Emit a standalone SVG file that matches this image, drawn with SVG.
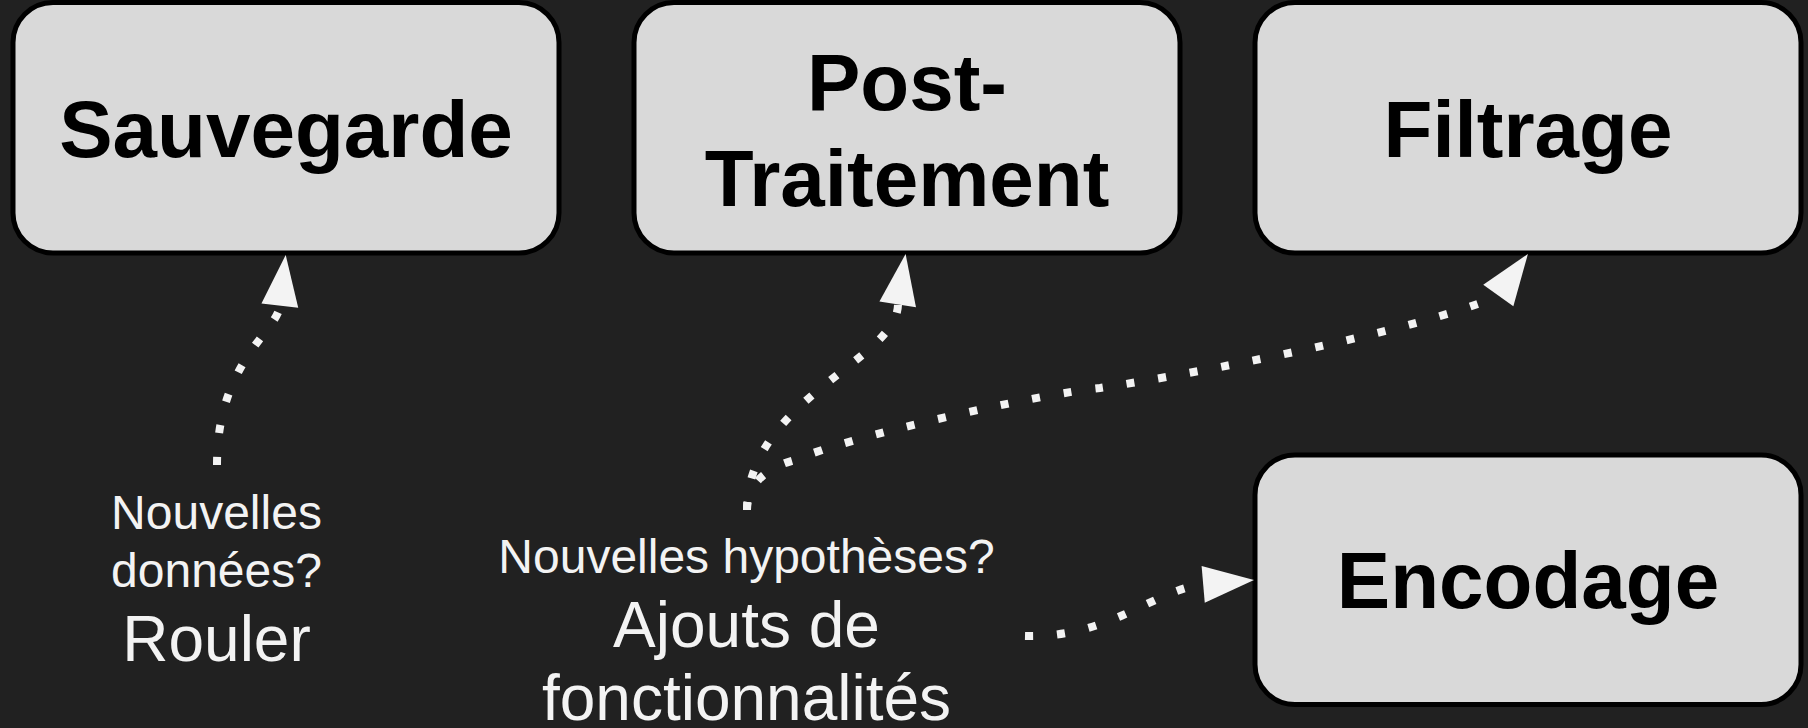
<svg xmlns="http://www.w3.org/2000/svg" xmlns:xlink="http://www.w3.org/1999/xlink" width="1808" height="728" viewBox="0 0 1808 728">
  <style>
    .box { fill: #d9d9d9; stroke: #000000; stroke-width: 5; }
    .title { font-family: "Liberation Sans", Arial, sans-serif; font-weight: bold; font-size: 80px; fill: #000000; text-anchor: middle; }
    .note { font-family: "Liberation Sans", Arial, sans-serif; font-size: 48px; fill: #f3f3f3; text-anchor: middle; }
    .big { font-family: "Liberation Sans", Arial, sans-serif; font-size: 64px; fill: #f3f3f3; text-anchor: middle; }
    .dotted { fill: none; stroke: #f3f3f3; stroke-width: 8; stroke-dasharray: 8 24; stroke-linecap: butt; }
    .head { fill: #f3f3f3; stroke: none; }
  </style>
  <defs>
    <!-- arrowhead with its tip at the origin, pointing along +x -->
    <path id="arrowhead" class="head" d="M0,0 L-51,-18.5 L-51,18.5 Z"/>
  </defs>

  <rect width="1808" height="728" fill="#212121"/>

  <g id="sauvegarde">
    <rect class="box" x="13" y="2.5" width="546" height="250.5" rx="40" ry="40"/>
    <text class="title" x="286" y="157">Sauvegarde</text>
  </g>

  <g id="post-traitement">
    <rect class="box" x="634" y="2.5" width="546" height="250.5" rx="40" ry="40"/>
    <text class="title" x="907" y="110">Post-</text>
    <text class="title" x="907" y="206">Traitement</text>
  </g>

  <g id="filtrage">
    <rect class="box" x="1255" y="2.5" width="546" height="250.5" rx="40" ry="40"/>
    <text class="title" x="1528" y="157">Filtrage</text>
  </g>

  <g id="encodage">
    <rect class="box" x="1255" y="455" width="546" height="249.5" rx="40" ry="40"/>
    <text class="title" x="1528" y="608">Encodage</text>
  </g>

  <g id="rouler">
    <text class="note" x="216.5" y="529">Nouvelles</text>
    <text class="note" x="216.5" y="587">données?</text>
    <text class="big" x="216.5" y="661">Rouler</text>
  </g>

  <g id="ajouts">
    <text class="note" x="746.5" y="573">Nouvelles hypothèses?</text>
    <text class="big" x="746.5" y="647">Ajouts de</text>
    <text class="big" x="746.5" y="720">fonctionnalités</text>
  </g>

  <g id="connectors">
    <!-- Rouler to Sauvegarde -->
    <path class="dotted" d="M217,465 C217,360 280,330 280,304"/>
    <use xlink:href="#arrowhead" transform="translate(285.7,255) rotate(-83.4)"/>

    <!-- Ajouts to Post-Traitement -->
    <path class="dotted" d="M747,510 C747,400 898,360 898,304"/>
    <use xlink:href="#arrowhead" transform="translate(905.6,254) rotate(-81.1)"/>

    <!-- Ajouts to Filtrage -->
    <path class="dotted" d="M747,510 C747,485 765,468 795,460 C850,436 1040,394 1100,388 C1200,373 1420,330 1498,296"/>
    <use xlink:href="#arrowhead" transform="translate(1527.9,254) rotate(-54.5)"/>

    <!-- Ajouts to Encodage -->
    <path class="dotted" d="M1025,636 C1110,638 1150,592 1203,584"/>
    <use xlink:href="#arrowhead" transform="translate(1254,580) rotate(-4.9)"/>
  </g>
</svg>
